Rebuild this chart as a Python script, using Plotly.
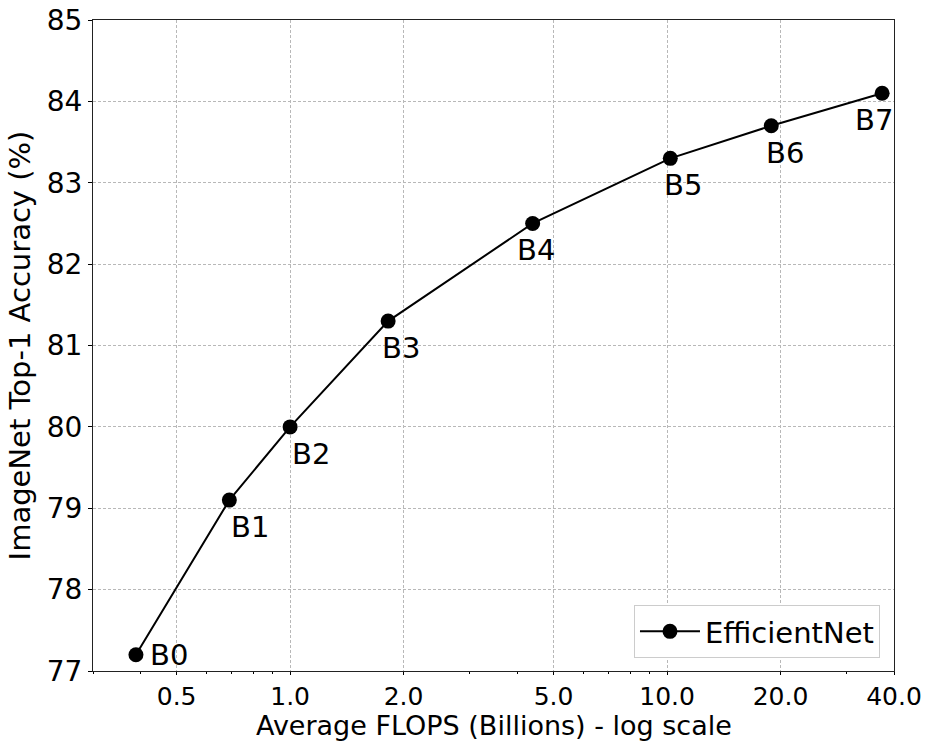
import math
import plotly.graph_objects as go

# Data
models = ["B0", "B1", "B2", "B3", "B4", "B5", "B6", "B7"]
flops = [0.39, 0.69, 1.0, 1.82, 4.4, 10.2, 18.9, 37.2]
accuracy = [77.2, 79.1, 80.0, 81.3, 82.5, 83.3, 83.7, 84.1]
x_tickvals = [0.5, 1.0, 2.0, 5.0, 10.0, 20.0, 40.0]
x_ticktext = ["0.5", "1.0", "2.0", "5.0", "10.0", "20.0", "40.0"]
y_tickvals = [77, 78, 79, 80, 81, 82, 83, 84, 85]

# label offsets in pixels (dx, dy) relative to each point
label_dx = [12, 0, 0, -8, -18, -8, -7, -29]
label_dy = [0, -27, -27, -27, -27, -27, -27, -27]

FONT = "DejaVu Sans"
FS = 29
TFS = 28
XFS = 25

fig = go.Figure()
fig.add_trace(go.Scatter(
    x=flops, y=accuracy, mode="lines+markers", name="EfficientNet",
    line=dict(color="black", width=2),
    marker=dict(color="black", size=15),
))

for m, xv, yv, dx, dy in zip(models, flops, accuracy, label_dx, label_dy):
    fig.add_annotation(x=math.log10(xv), y=yv, xref="x", yref="y", text=m, showarrow=False,
                       xanchor="left", yanchor="middle", xshift=dx, yshift=dy,
                       font=dict(family=FONT, size=FS, color="black"))

# x-axis title, placed as an annotation so it can sit as low as in the reference
fig.add_annotation(x=0.5, y=-0.0837, xref="paper", yref="paper", showarrow=False,
                   text="Average FLOPS (Billions) - log scale",
                   xanchor="center", yanchor="middle",
                   font=dict(family=FONT, size=27, color="black"))

fig.update_xaxes(
    type="log", range=[math.log10(0.3), math.log10(40)],
    tickvals=x_tickvals, ticktext=x_ticktext,
    ticks="outside", ticklen=3, tickwidth=1, tickcolor="black",
    minor=dict(ticks="outside", ticklen=2, tickwidth=1, tickcolor="black", dtick="D1", showgrid=False),
    showgrid=True, gridcolor="#b8b8b8", gridwidth=1, griddash="3px,2px",
    showline=True, linecolor="#222", linewidth=1, mirror=True,
    tickfont=dict(family=FONT, size=XFS, color="black"),
    zeroline=False, automargin=False,
)
fig.update_yaxes(
    range=[77, 85], tickvals=y_tickvals,
    ticks="outside", ticklen=4, tickwidth=1, tickcolor="black",
    showgrid=True, gridcolor="#b8b8b8", gridwidth=1, griddash="3px,2px",
    showline=True, linecolor="#222", linewidth=1, mirror=True,
    tickfont=dict(family=FONT, size=TFS, color="black"),
    title=dict(text="ImageNet Top-1 Accuracy (%)", standoff=7,
               font=dict(family=FONT, size=FS, color="black")),
    zeroline=False, automargin=False,
)

fig.update_layout(
    width=930, height=741,
    margin=dict(l=93, r=36, t=20, b=70, pad=0),
    plot_bgcolor="white", paper_bgcolor="white",
    font=dict(family=FONT, size=FS, color="black"),
    showlegend=True,
    legend=dict(x=0.9825, y=0.02, xanchor="right", yanchor="bottom",
                bgcolor="white", bordercolor="#cccccc", borderwidth=1,
                itemwidth=60, tracegroupgap=0,
                font=dict(family=FONT, size=FS, color="black")),
)

fig.write_html("out.html")
